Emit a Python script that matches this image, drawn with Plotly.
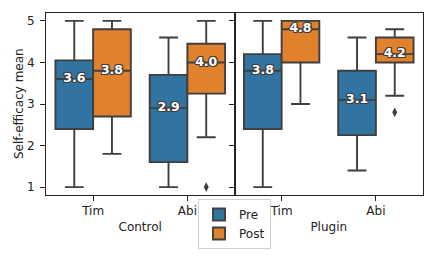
import plotly.graph_objects as go
from plotly.subplots import make_subplots

panels = ["Control", "Plugin"]
personas = ["Tim", "Abi"]
phases = ["Pre", "Post"]
colors = {"Pre": "#3274a1", "Post": "#e1812c"}

# stats per panel -> phase -> [Tim, Abi]
lower = {"Control": {"Pre": [1.0, 1.0], "Post": [1.8, 2.2]},
         "Plugin": {"Pre": [1.0, 1.4], "Post": [3.0, 3.2]}}
q1 = {"Control": {"Pre": [2.4, 1.6], "Post": [2.7, 3.25]},
      "Plugin": {"Pre": [2.4, 2.25], "Post": [4.0, 4.0]}}
median = {"Control": {"Pre": [3.6, 2.9], "Post": [3.8, 4.0]},
          "Plugin": {"Pre": [3.8, 3.1], "Post": [4.8, 4.2]}}
q3 = {"Control": {"Pre": [4.05, 3.7], "Post": [4.8, 4.45]},
      "Plugin": {"Pre": [4.2, 3.8], "Post": [5.0, 4.6]}}
upper = {"Control": {"Pre": [5.0, 4.6], "Post": [5.0, 5.0]},
         "Plugin": {"Pre": [5.0, 4.6], "Post": [5.0, 4.8]}}
# outliers: (panel, phase, persona index, value)
outliers = [("Control", "Post", 1, 1.0), ("Plugin", "Post", 1, 2.8)]

offset = {"Pre": -0.2, "Post": 0.2}
box_w = 0.4
edge = "#3f3f3f"
font_family = "DejaVu Sans"
sh = ", ".join(f"{dx}px {dy}px 0 {edge}" for dx in (-1, 0, 1) for dy in (-1, 0, 1) if dx or dy)

fig = make_subplots(rows=1, cols=2, shared_yaxes=True, horizontal_spacing=0)

for ci, panel in enumerate(panels):
    col = ci + 1
    for ph in phases:
        xs = [i + offset[ph] for i in range(len(personas))]
        fig.add_trace(go.Box(
            x=xs, q1=q1[panel][ph], median=median[panel][ph], q3=q3[panel][ph],
            lowerfence=lower[panel][ph], upperfence=upper[panel][ph],
            width=box_w, whiskerwidth=0.5, fillcolor=colors[ph],
            line=dict(color=edge, width=1.9), boxpoints=False,
            name=ph, legendgroup=ph, showlegend=(ci == 0),
        ), row=1, col=col)
    for ph in phases:
        xs = [i + offset[ph] for i in range(len(personas))]
        fig.add_trace(go.Scatter(
            x=xs, y=median[panel][ph], mode="text",
            text=[f"{m:.1f}" for m in median[panel][ph]],
            textposition="middle center",
            textfont=dict(family=font_family, size=12.5, color="white", weight="bold", shadow=sh),
            showlegend=False, hoverinfo="skip",
        ), row=1, col=col)

for panel, ph, idx, val in outliers:
    col = panels.index(panel) + 1
    fig.add_trace(go.Scatter(
        x=[idx + offset[ph]], y=[val], mode="markers",
        marker=dict(symbol="diamond-tall", size=7, color=edge),
        showlegend=False, hoverinfo="skip",
    ), row=1, col=col)

axis_common = dict(showline=True, linecolor="#222222", linewidth=1, mirror=True,
                   ticks="outside", ticklen=5, tickcolor="#222222", showgrid=False,
                   zeroline=False, automargin=False,
                   tickfont=dict(family=font_family, size=12, color="#222"))
for ci, panel in enumerate(panels):
    fig.update_xaxes(range=[-0.5, 1.5], tickvals=[0, 1], ticktext=personas, ticklabelstandoff=0,
                     title=dict(text=panel, font=dict(family=font_family, size=12, color="#222"), standoff=5),
                     row=1, col=ci + 1, **axis_common)
    fig.update_yaxes(range=[0.81, 5.19], tickvals=[1, 2, 3, 4, 5], ticklabelstandoff=3,
                     row=1, col=ci + 1, **axis_common)
fig.update_yaxes(showticklabels=False, row=1, col=2)

plot_w = 436 - 46 - 13
fig.add_annotation(text="Self-efficacy mean", xref="paper", yref="paper",
                   x=(19 - 46) / plot_w, y=0.5, xanchor="center", yanchor="middle",
                   textangle=-90, showarrow=False,
                   font=dict(family=font_family, size=12, color="#222"))

fig.update_layout(
    width=436, height=262,
    margin=dict(l=46, r=13, t=13, b=67, autoexpand=False),
    plot_bgcolor="white", paper_bgcolor="white",
    boxmode="overlay",
    font=dict(family=font_family, size=12, color="#222"),
    legend=dict(x=0.5, y=-0.022, xanchor="center", yanchor="top",
                bgcolor="white", bordercolor="#d0d0d0", borderwidth=1,
                font=dict(family=font_family, size=12, color="#222"),
                tracegroupgap=0, itemwidth=30),
)

fig.write_html("out.html", config={"displayModeBar": False},
               post_script="document.body.style.margin='0';document.body.style.overflow='hidden';")
